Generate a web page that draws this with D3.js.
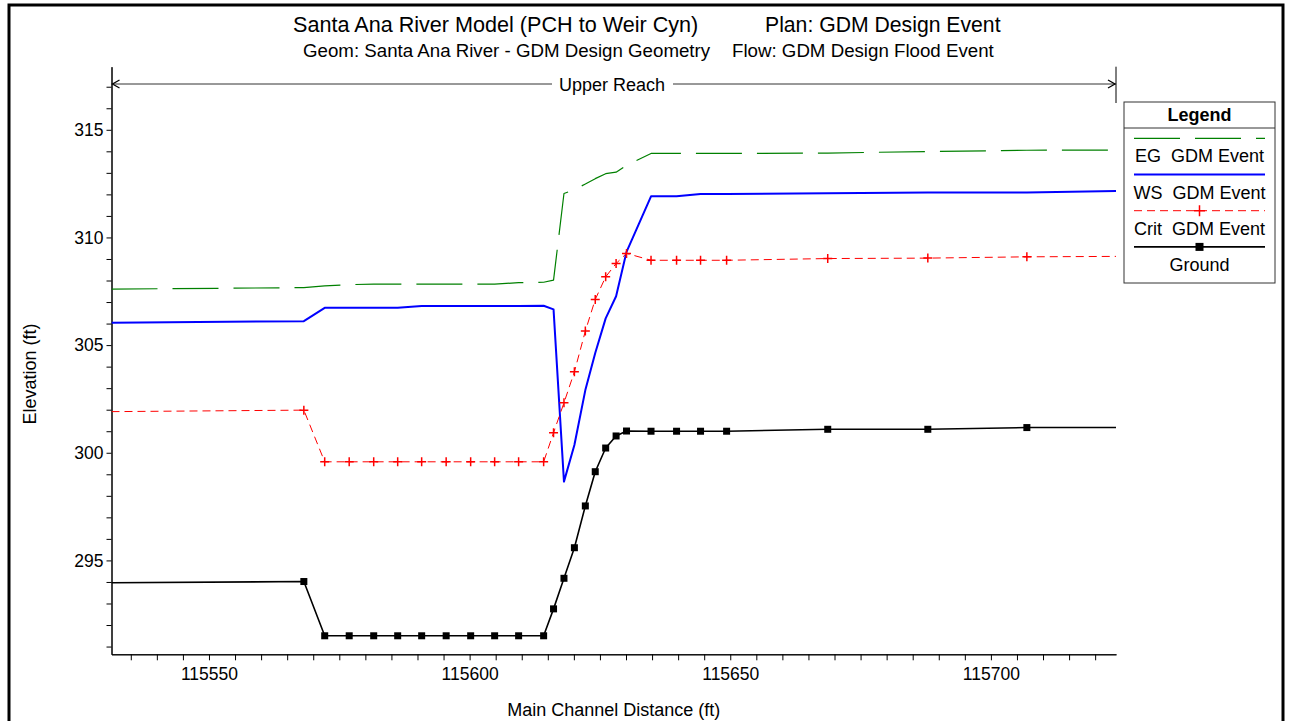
<!DOCTYPE html>
<html>
<head>
<meta charset="utf-8">
<script src="https://cdn.jsdelivr.net/npm/d3@7"></script>
<style>
    body { margin: 0; background: #fff; }
    svg { display: block; font-family: Arial, "Liberation Sans", sans-serif; }
    text { white-space: pre; }
</style>
</head>
<body>
<svg width="1290" height="721"></svg>
<script>
// main channel distance of every cross section (ft)
let stations = [115531.3, 115568.2, 115572.2, 115576.9, 115581.6, 115586.2, 115590.8, 115595.5,
    115600.2, 115604.8, 115609.4, 115614.2, 115616.1, 115618.1, 115620.1, 115622.2, 115624.1,
    115626.1, 115628.1, 115630.1, 115634.8, 115639.7, 115644.3, 115649.3, 115668.7, 115687.9,
    115706.9, 115724.0];

let egElev = [307.60, 307.67, 307.75, 307.81, 307.83, 307.83, 307.83, 307.83, 307.83, 307.83,
    307.90, 307.92, 308.02, 312.04, 312.22, 312.48, 312.73, 312.96, 313.03, 313.35, 313.90,
    313.90, 313.90, 313.90, 313.92, 313.99, 314.05, 314.06];

let wsElev = [306.04, 306.11, 306.73, 306.73, 306.73, 306.73, 306.82, 306.82, 306.82, 306.82,
    306.82, 306.83, 306.66, 298.66, 300.36, 302.91, 304.63, 306.24, 307.27, 309.33, 311.91,
    311.91, 312.02, 312.02, 312.05, 312.09, 312.09, 312.16];

let critElev = [301.91, 301.98, 299.58, 299.58, 299.58, 299.58, 299.58, 299.58, 299.58, 299.58,
    299.58, 299.58, 300.93, 302.32, 303.76, 305.65, 307.12, 308.17, 308.79, 309.26, 308.94,
    308.94, 308.94, 308.94, 309.02, 309.04, 309.10, 309.12];

let groundElev = [293.96, 294.02, 291.50, 291.50, 291.50, 291.50, 291.50, 291.50, 291.50, 291.50,
    291.50, 291.50, 292.75, 294.17, 295.59, 297.53, 299.12, 300.22, 300.78, 301.01, 301.00,
    301.00, 301.00, 301.00, 301.09, 301.09, 301.17, 301.17];

let xMajorTicks = [115550, 115600, 115650, 115700];
let yMajorTicks = [295, 300, 305, 310, 315];

let legendNames = ["EG  GDM Event", "WS  GDM Event", "Crit  GDM Event", "Ground"];

let svg = d3.select("svg"),
    plot = {left: 111.5, right: 1116, top: 66.7, bottom: 654.3};

let x = d3.scaleLinear()
    .domain([stations[0], stations[stations.length - 1]])
    .range([plot.left, plot.right]);

let y = d3.scaleLinear()
    .domain([290.64, 317.93])
    .range([plot.bottom, plot.top]);

// outer frame
svg.append("rect")
    .attr("x", 9).attr("y", 5)
    .attr("width", 1274).attr("height", 740)
    .attr("fill", "none")
    .attr("stroke", "#000")
    .attr("stroke-width", 3);

// titles
svg.append("text").attr("x", 293).attr("y", 32).attr("font-size", 21.6)
    .text("Santa Ana River Model (PCH to Weir Cyn)");
svg.append("text").attr("x", 765).attr("y", 32).attr("font-size", 21.2)
    .text("Plan: GDM Design Event");
svg.append("text").attr("x", 303).attr("y", 57).attr("font-size", 18.7)
    .text("Geom: Santa Ana River - GDM Design Geometry");
svg.append("text").attr("x", 732).attr("y", 57).attr("font-size", 18.7)
    .text("Flow: GDM Design Flood Event");

// axes
let minorX = d3.range(115535, 115724, 5).filter(d => d % 50 !== 0);
let minorY = d3.range(291, 318, 1).filter(d => d % 5 !== 0);

svg.append("g")
    .attr("transform", "translate(" + plot.left + ",0)")
    .call(d3.axisLeft(y).tickValues(yMajorTicks).tickSize(5).tickSizeOuter(0).tickPadding(3));
svg.append("g")
    .attr("transform", "translate(" + plot.left + ",0)")
    .call(d3.axisLeft(y).tickValues(minorY).tickSize(5).tickSizeOuter(0).tickFormat(""));

svg.append("g")
    .attr("transform", "translate(0," + plot.bottom + ")")
    .call(d3.axisBottom(x).tickValues(xMajorTicks).tickSize(6).tickSizeOuter(0).tickPadding(7.5)
        .tickFormat(d3.format("d")));
svg.append("g")
    .attr("transform", "translate(0," + plot.bottom + ")")
    .call(d3.axisBottom(x).tickValues(minorX).tickSize(6).tickSizeOuter(0).tickFormat(""));

svg.selectAll(".tick text")
    .attr("font-size", 17.5)
    .attr("font-family", "Arial, 'Liberation Sans', sans-serif")
    .attr("fill", "#000");
svg.selectAll(".domain").attr("stroke", "#000");
svg.selectAll(".tick line").attr("stroke", "#000");

svg.append("text")
    .attr("transform", "translate(36,374) rotate(-90)")
    .attr("text-anchor", "middle")
    .attr("font-size", 18)
    .text("Elevation (ft)");

svg.append("text")
    .attr("x", (plot.left + plot.right) / 2)
    .attr("y", 716)
    .attr("text-anchor", "middle")
    .attr("font-size", 18)
    .text("Main Channel Distance (ft)");

// reach marker
let reachY = 84;
svg.append("line")
    .attr("x1", plot.right).attr("x2", plot.right)
    .attr("y1", plot.top).attr("y2", 103)
    .attr("stroke", "#000");
svg.append("line")
    .attr("x1", plot.left).attr("x2", 552)
    .attr("y1", reachY).attr("y2", reachY)
    .attr("stroke", "#333");
svg.append("line")
    .attr("x1", 673).attr("x2", plot.right)
    .attr("y1", reachY).attr("y2", reachY)
    .attr("stroke", "#333");
svg.append("path")
    .attr("d", "M" + (plot.left + 8) + "," + (reachY - 4) + "L" + (plot.left + 1) + "," + reachY +
        "L" + (plot.left + 8) + "," + (reachY + 4))
    .attr("fill", "none").attr("stroke", "#000").attr("stroke-width", 1.3);
svg.append("path")
    .attr("d", "M" + (plot.right - 8) + "," + (reachY - 4) + "L" + (plot.right - 1) + "," + reachY +
        "L" + (plot.right - 8) + "," + (reachY + 4))
    .attr("fill", "none").attr("stroke", "#000").attr("stroke-width", 1.3);
svg.append("text")
    .attr("x", 612).attr("y", 91)
    .attr("text-anchor", "middle")
    .attr("font-size", 18)
    .text("Upper Reach");

// profiles
svg.append("clipPath").attr("id", "plotClip")
    .append("rect")
    .attr("x", plot.left).attr("y", plot.top)
    .attr("width", plot.right - plot.left).attr("height", plot.bottom - plot.top);

let series = [
    {values: egElev, color: "#008000", width: 1.2, dash: "46,15"},
    {values: wsElev, color: "#0000ff", width: 2, dash: null},
    {values: critElev, color: "#ff0000", width: 1, dash: "8,5"},
    {values: groundElev, color: "#000", width: 1.6, dash: null}
];

let g = svg.append("g").attr("clip-path", "url(#plotClip)");

series.forEach(function (s) {
    let lineGenerator = d3.line()
        .x(function (d, i) { return x(stations[i]); })
        .y(function (d) { return y(d); });
    g.append("path")
        .attr("fill", "none")
        .attr("stroke", s.color)
        .attr("stroke-width", s.width)
        .attr("stroke-dasharray", s.dash)
        .attr("stroke-linejoin", "round")
        .attr("d", lineGenerator(s.values));
});

let inner = d3.range(1, stations.length - 1);

g.selectAll(".crit-mark")
    .data(inner)
    .enter()
    .append("path")
    .attr("class", "crit-mark")
    .attr("d", function (i) {
        let cx = x(stations[i]), cy = y(critElev[i]);
        return "M" + (cx - 4.5) + "," + cy + "H" + (cx + 4.5) + "M" + cx + "," + (cy - 4.5) + "V" + (cy + 4.5);
    })
    .attr("stroke", "#ff0000")
    .attr("stroke-width", 1.5);

g.selectAll(".ground-mark")
    .data(inner)
    .enter()
    .append("rect")
    .attr("class", "ground-mark")
    .attr("x", function (i) { return x(stations[i]) - 3.5; })
    .attr("y", function (i) { return y(groundElev[i]) - 3.5; })
    .attr("width", 7)
    .attr("height", 7)
    .attr("fill", "#000");

// legend
let lg = svg.append("g").attr("transform", "translate(1124,102)");
lg.append("rect")
    .attr("width", 151).attr("height", 181)
    .attr("fill", "#fff")
    .attr("stroke", "#333");
lg.append("line")
    .attr("x1", 0).attr("x2", 151)
    .attr("y1", 26).attr("y2", 26)
    .attr("stroke", "#333");
lg.append("text")
    .attr("x", 75.5).attr("y", 18.5)
    .attr("text-anchor", "middle")
    .attr("font-size", 18)
    .attr("font-weight", "bold")
    .text("Legend");

series.forEach(function (s, i) {
    let ly = 36.3 + i * 36.2;
    lg.append("line")
        .attr("x1", 10).attr("x2", 141)
        .attr("y1", ly).attr("y2", ly)
        .attr("stroke", s.color)
        .attr("stroke-width", s.width)
        .attr("stroke-dasharray", s.dash);
    lg.append("text")
        .attr("x", 75.5).attr("y", ly + 24)
        .attr("text-anchor", "middle")
        .attr("font-size", 18)
        .text(legendNames[i]);
});
lg.append("path")
    .attr("d", "M70,108.7H81M75.5,103.2V114.2")
    .attr("stroke", "#ff0000").attr("stroke-width", 1.5);
lg.append("rect")
    .attr("x", 71.5).attr("y", 140.9)
    .attr("width", 8).attr("height", 8)
    .attr("fill", "#000");
</script>
</body>
</html>
